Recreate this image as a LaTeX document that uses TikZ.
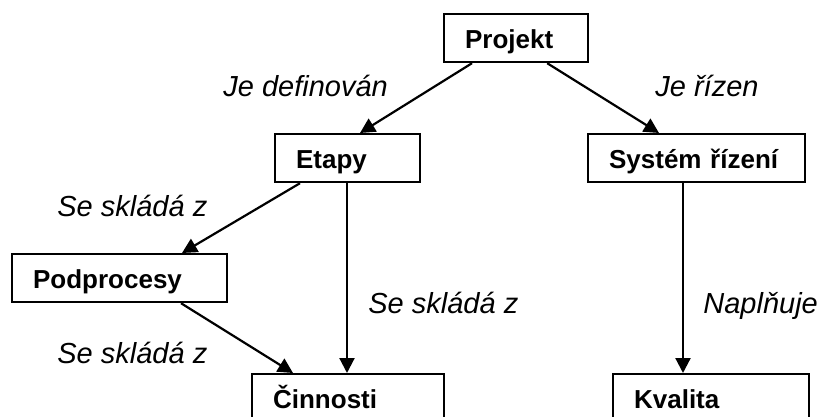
\documentclass[tikz,border=0pt]{standalone}
\usepackage{fontspec}
\setmainfont{Liberation Sans}
\usetikzlibrary{arrows.meta}

\begin{document}
\begin{tikzpicture}[x=0.5pt, y=-0.5pt,
    box/.style={draw, line width=1.1pt, anchor=north west, minimum height=24pt,
        inner xsep=10.5pt, inner ysep=0pt, text height=11.5pt, text depth=1.5pt,
        align=left, font=\fontsize{13}{15}\selectfont\bfseries},
    rel/.style={anchor=base west, inner sep=0pt,
        font=\fontsize{14.5}{17}\selectfont\itshape},
    arr/.style={line width=1.1pt, -{Triangle[length=7.5pt,width=7.5pt]}}]
    \useasboundingbox (0,0) rectangle (820,417);
    \clip (0,0) rectangle (820,417);

    % boxes
    \node [box, text width=51pt] (proj) at (443,13) {Projekt};
    \node [box, text width=51.5pt] (etapy) at (274,133) {Etapy};
    \node [box, text width=87.5pt] (syst) at (587,133) {Systém řízení};
    \node [box, text width=86.5pt] (podpr) at (11,253) {Podprocesy};
    \node [box, text width=75pt] (cinn) at (251,373) {Činnosti};
    \node [box, text width=77pt] (kval) at (612,373) {Kvalita};

    % arrows
    \draw [arr] ([xshift=14.5pt]proj.south west) -- ([xshift=43pt]etapy.north west);
    \draw [arr] ([xshift=-21pt]proj.south east) -- ([xshift=36pt]syst.north west);
    \draw [arr] ([xshift=13pt]etapy.south west) -- ([xshift=85.5pt]podpr.north west);
    \draw [arr] ([xshift=36.5pt]etapy.south west) -- ([xshift=48pt]cinn.north west);
    \draw [arr] ([xshift=85pt]podpr.south west) -- ([xshift=21pt]cinn.north west);
    \draw [arr] ([xshift=48pt]syst.south west) -- ([xshift=35.5pt]kval.north west);

    % labels
    \node [rel] (jedef) at (223,97) {Je definován};
    \node [rel] (jeriz) at (655,97) {Je řízen};
    \node [rel] (skl1) at (57,217) {Se skládá z};
    \node [rel] (skl2) at (368,313) {Se skládá z};
    \node [rel] (napl) at (703,313) {Naplňuje};
    \node [rel] (skl3) at (57,363) {Se skládá z};
\end{tikzpicture}
\end{document}
